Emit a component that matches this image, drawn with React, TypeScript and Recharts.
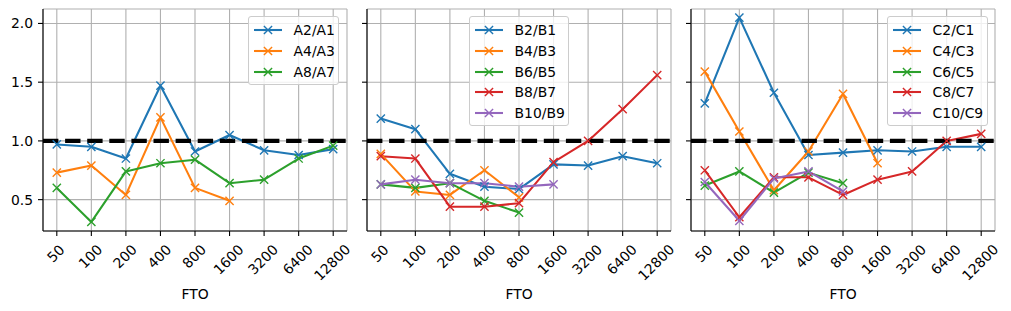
import React from 'react';
import { LineChart, Line, XAxis, YAxis, CartesianGrid, ReferenceLine, Legend } from 'recharts';

const fto = ['50', '100', '200', '400', '800', '1600', '3200', '6400', '12800'];

// panel A
const a2a1 = [0.97, 0.95, 0.85, 1.47, 0.91, 1.05, 0.92, 0.88, 0.93];
const a4a3 = [0.73, 0.79, 0.54, 1.2, 0.6, 0.49];
const a8a7 = [0.6, 0.31, 0.74, 0.81, 0.84, 0.64, 0.67, 0.85, 0.96];

// panel B
const b2b1 = [1.19, 1.1, 0.72, 0.61, 0.59, 0.8, 0.79, 0.87, 0.81];
const b4b3 = [0.89, 0.57, 0.54, 0.75, 0.52];
const b6b5 = [0.63, 0.6, 0.64, 0.49, 0.39];
const b8b7 = [0.87, 0.85, 0.44, 0.44, 0.47, 0.82, 1.0, 1.27, 1.56];
const b10b9 = [0.63, 0.67, 0.64, 0.64, 0.61, 0.63];

// panel C
const c2c1 = [1.32, 2.05, 1.41, 0.88, 0.9, 0.92, 0.91, 0.95, 0.95];
const c4c3 = [1.59, 1.08, 0.58, 0.91, 1.4, 0.81];
const c6c5 = [0.62, 0.74, 0.56, 0.73, 0.64];
const c8c7 = [0.75, 0.35, 0.69, 0.69, 0.54, 0.67, 0.74, 1.0, 1.06];
const c10c9 = [0.65, 0.32, 0.68, 0.74, 0.57];

const yTicks = [0.5, 1.0, 1.5, 2.0];
const COLORS = ['#1f77b4', '#ff7f0e', '#2ca02c', '#d62728', '#9467bd'];
const FS = 13.9;

const panels = [
  {
    series: [['A2/A1', a2a1], ['A4/A3', a4a3], ['A8/A7', a8a7]] as [string, number[]][],
    left: 0, width: 355, yw: 43, labels: true, legLeft: 248, legWidth: 91,
  },
  {
    series: [['B2/B1', b2b1], ['B4/B3', b4b3], ['B6/B5', b6b5], ['B8/B7', b8b7], ['B10/B9', b10b9]] as [string, number[]][],
    left: 355, width: 324, yw: 12, labels: false, legLeft: 114, legWidth: 100,
  },
  {
    series: [['C2/C1', c2c1], ['C4/C3', c4c3], ['C6/C5', c6c5], ['C8/C7', c8c7], ['C10/C9', c10c9]] as [string, number[]][],
    left: 679, width: 324, yw: 12, labels: false, legLeft: 208, legWidth: 101,
  },
];

const XMark = (props: any) => {
  const { cx, cy, stroke } = props;
  if (cx == null || cy == null || props.value == null) return null;
  const r = 4.1;
  return (
    <path
      d={`M${cx - r},${cy - r}L${cx + r},${cy + r}M${cx - r},${cy + r}L${cx + r},${cy - r}`}
      stroke={stroke}
      strokeWidth={1.4}
      fill="none"
    />
  );
};

const XTick = (props: any) => {
  const { x, y, payload } = props;
  const label = String(payload.value);
  const w = label.length * 0.6 * FS;
  const s = (w + 0.73 * FS) * Math.SQRT1_2;
  const cx = x - 1;
  const cy = y + 8 + s / 2;
  return (
    <text x={cx} y={cy} dy="0.36em" textAnchor="middle" fontSize={FS} fill="#000"
      transform={`rotate(-45 ${cx} ${cy})`}>
      {label}
    </text>
  );
};

// legend drawn in series order (recharts would sort it by name)
const LegendBox = ({ names }: { names: string[] }) => (
  <div style={{
    boxSizing: 'border-box', background: 'rgba(255,255,255,0.8)', border: '1px solid #cccccc',
    borderRadius: 3, padding: '3px 0 2px 0', fontSize: FS, color: '#000',
  }}>
    {names.map((name, i) => (
      <div key={name} style={{ display: 'flex', alignItems: 'center', height: 20.7 }}>
        <svg width={28} height={20} style={{ marginLeft: 5, marginRight: 11.6 }}>
          <line x1={0} y1={10} x2={28} y2={10} stroke={COLORS[i]} strokeWidth={2.08} />
          <path d="M9.9,5.9L18.1,14.1M9.9,14.1L18.1,5.9" stroke={COLORS[i]} strokeWidth={1.4} />
        </svg>
        <span style={{ whiteSpace: 'nowrap' }}>{name}</span>
      </div>
    ))}
  </div>
);

function Panel({ p }: { p: typeof panels[number] }) {
  const rows = fto.map((f, i) => {
    const r: any = { fto: f };
    p.series.forEach(([name, vals]) => { r[name] = i < vals.length ? vals[i] : null; });
    return r;
  });
  const names = p.series.map(([n]) => n);
  return (
    <div style={{ position: 'absolute', left: p.left, top: 0 }}>
      <LineChart width={p.width} height={311} data={rows} margin={{ top: 9, right: 8, bottom: 0, left: 0 }}>
        <CartesianGrid stroke="#b0b0b0" strokeWidth={1.1} />
        <XAxis dataKey="fto" scale="point" padding={{ left: 13.8, right: 13.8 }} height={80}
          tickSize={5} tickMargin={0} tick={<XTick />} interval={0}
          axisLine={{ stroke: '#000', strokeWidth: 1.1 }} tickLine={{ stroke: '#000', strokeWidth: 1.1 }}
          label={{ value: 'FTO', position: 'insideBottom', offset: 12, fill: '#000', fontSize: FS }} />
        <XAxis xAxisId="top" orientation="top" dataKey="fto" scale="point" padding={{ left: 13.8, right: 13.8 }}
          height={0} tick={false} tickLine={false} axisLine={{ stroke: '#000', strokeWidth: 1.1 }} />
        <YAxis type="number" domain={[0.233, 2.123]} ticks={yTicks} allowDataOverflow width={p.yw}
          tickSize={5} tickMargin={5}
          tick={{ fill: '#000', fontSize: FS }}
          tickFormatter={(v: number) => (p.labels ? v.toFixed(1) : '')}
          axisLine={{ stroke: '#000', strokeWidth: 1.1 }} tickLine={{ stroke: '#000', strokeWidth: 1.1 }} />
        <YAxis yAxisId="r" orientation="right" type="number" domain={[0.233, 2.123]} ticks={yTicks}
          allowDataOverflow width={0} tick={false} tickLine={false} axisLine={{ stroke: '#000', strokeWidth: 1.1 }} />
        {p.series.map(([name], i) => (
          <Line key={name} dataKey={name} name={name} stroke={COLORS[i]} strokeWidth={2.08}
            strokeLinejoin="round" dot={<XMark />} activeDot={false} isAnimationActive={false} />
        ))}
        <ReferenceLine y={1} stroke="#000" strokeWidth={4.2} strokeDasharray="15.4 6.7" />
        <Legend layout="horizontal" verticalAlign="middle" align="center"
          wrapperStyle={{ position: 'absolute', left: p.legLeft, top: 16, width: p.legWidth, height: 'auto', margin: 0 }}
          content={<LegendBox names={names} />} />
      </LineChart>
    </div>
  );
}

export default function App() {
  return (
    <div style={{ position: 'absolute', left: 0, top: 0, width: 1011, height: 311, background: '#fff',
      fontFamily: '"DejaVu Sans", sans-serif' }}>
      {panels.map((p, i) => <Panel key={i} p={p} />)}
    </div>
  );
}
